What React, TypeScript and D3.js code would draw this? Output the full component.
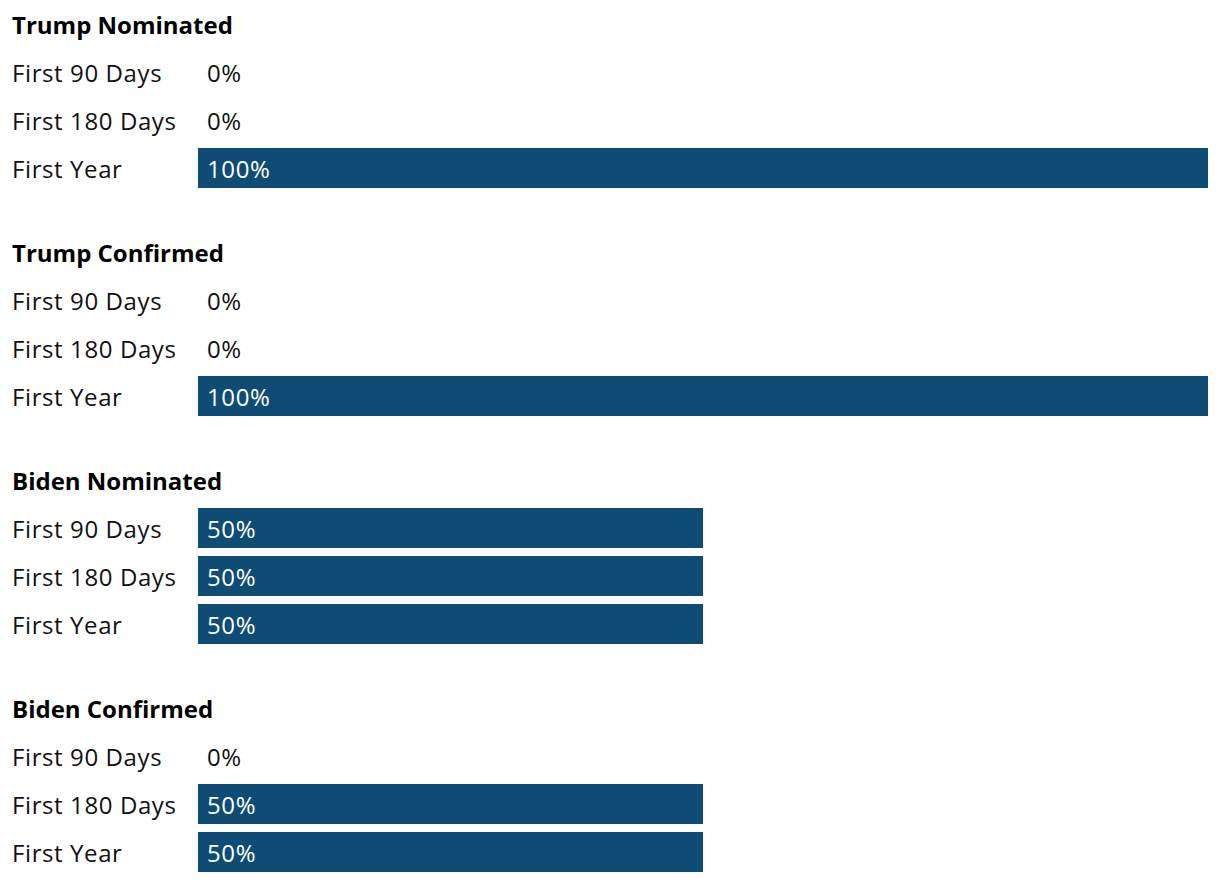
import React from "react";
import * as d3 from "d3";

const groups = ["Trump Nominated", "Trump Confirmed", "Biden Nominated", "Biden Confirmed"];
const categories = ["First 90 Days", "First 180 Days", "First Year"];
const trumpNominated = [0, 0, 100];
const trumpConfirmed = [0, 0, 100];
const bidenNominated = [50, 50, 50];
const bidenConfirmed = [0, 50, 50];
const seriesValues = [trumpNominated, trumpConfirmed, bidenNominated, bidenConfirmed];

const W = 1220;
const H = 882;
const FONT = "'Open Sans', sans-serif";
const COLOR = "#0e4c75";

export default function App() {
  const x = d3.scaleLinear().domain([0, 100]).range([198, 1208]);
  const groupY = d3.scaleBand<number>().domain(d3.range(groups.length)).range([0, 912]);
  const step = 48;
  const barH = 40;
  return (
    <svg width={W} height={H} style={{ position: "absolute", left: 0, top: 0, background: "#fff" }}>
      {groups.map((g, gi) => {
        const gy = groupY(gi) as number;
        return (
          <g key={g} transform={`translate(0,${gy})`}>
            <text x={12} y={34} fontFamily={FONT} fontWeight={700} fontSize={24} letterSpacing={0} fill="#000">
              {g}
            </text>
            {categories.map((c, ci) => {
              const v = seriesValues[gi][ci];
              const top = 52 + ci * step;
              return (
                <g key={c}>
                  <text x={12} y={top + 30} fontFamily={FONT} fontSize={24} letterSpacing={0.6} fill="#111">
                    {c}
                  </text>
                  {v > 0 && <rect x={x(0)} y={top} width={x(v) - x(0)} height={barH} fill={COLOR} />}
                  <text
                    x={x(0) + 9}
                    y={top + 30}
                    fontFamily={FONT}
                    fontSize={24}
                    letterSpacing={0.6}
                    fill={v > 0 ? "#fff" : "#111"}
                  >
                    {`${v}%`}
                  </text>
                </g>
              );
            })}
          </g>
        );
      })}
    </svg>
  );
}
